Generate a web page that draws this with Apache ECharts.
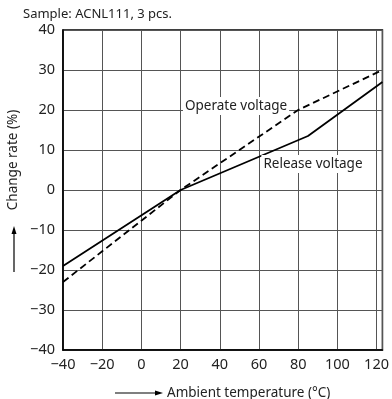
<!DOCTYPE html>
<html>
<head>
<meta charset="utf-8">
<script src="https://cdn.jsdelivr.net/npm/echarts@6/dist/echarts.min.js"></script>
<style>
  html, body { margin: 0; padding: 0; background: #fff; }
  #chart-container { width: 392px; height: 399px; }
</style>
</head>
<body>
<div id="chart-container"></div>
<script>
// ambient temperature (°C) vs change rate (%)
const releaseTemp = [-40, 20, 85, 123];
const releaseRate = [-19, 0, 13.5, 27];
const operateTemp = [-40, 20, 80, 123];
const operateRate = [-23, 0, 20, 30];
const xTicks = [-40, -20, 0, 20, 40, 60, 80, 100, 120];
const yTicks = [-40, -30, -20, -10, 0, 10, 20, 30, 40];

const font = "Noto Sans";
const textColor = "#222";
const minus = (v) => String(v).replace("-", "\u2212");

const labelBox = {
  show: true,
  fontFamily: font,
  fontSize: 13.5,
  color: textColor,
  backgroundColor: "#fff",
  padding: [2, 2, 2, 2],
};

const makeData = (xs, ys, labelIdx, label) =>
  xs.map((x, i) => {
    const d = { value: [x, ys[i]] };
    if (i === labelIdx) d.label = label;
    return d;
  });

let option = {
  animation: false,
  title: {
    text: "Sample: ACNL111, 3 pcs.",
    left: 18,
    top: 3,
    textStyle: { fontFamily: font, fontSize: 13, fontWeight: "normal", color: textColor },
  },
  grid: {
    left: 63,
    right: 9,
    top: 30,
    bottom: 49,
    show: true,
    borderColor: "#000",
    borderWidth: 1.5,
    containLabel: false,
  },
  xAxis: {
    type: "value",
    min: -40,
    max: 123,
    interval: 20,
    axisLine: { show: true, onZero: false, lineStyle: { color: "#000", width: 1.5 } },
    axisTick: { show: false },
    splitLine: { show: true, lineStyle: { color: "#555", width: 1 } },
    axisLabel: {
      margin: 7,
      fontFamily: font,
      fontSize: 14.5,
      color: textColor,
      showMaxLabel: false,
      formatter: (v) => (xTicks.includes(v) ? minus(v) : ""),
    },
  },
  yAxis: {
    type: "value",
    min: -40,
    max: 40,
    interval: 10,
    axisLine: { show: true, onZero: false, lineStyle: { color: "#000", width: 1.5 } },
    axisTick: { show: false },
    splitLine: { show: true, lineStyle: { color: "#555", width: 1 } },
    axisLabel: {
      margin: 8,
      fontFamily: font,
      fontSize: 14.5,
      color: textColor,
      formatter: (v) => (yTicks.includes(v) ? minus(v) : ""),
    },
  },
  series: [
    {
      name: "Release voltage",
      type: "line",
      symbol: "circle",
      symbolSize: 0,
      showSymbol: true,
      itemStyle: { color: "#000" },
      lineStyle: { color: "#000", width: 1.8 },
      data: makeData(releaseTemp, releaseRate, 2, {
        ...labelBox,
        formatter: "Release voltage",
        position: "bottom",
        distance: 19,
        offset: [5, 0],
      }),
      z: 3,
    },
    {
      name: "Operate voltage",
      type: "line",
      symbol: "circle",
      symbolSize: 0,
      showSymbol: true,
      itemStyle: { color: "#000" },
      lineStyle: { color: "#000", width: 1.8, type: [7, 4] },
      data: makeData(operateTemp, operateRate, 2, {
        ...labelBox,
        formatter: "Operate voltage",
        position: "left",
        distance: 9,
        offset: [0, -4],
      }),
      z: 3,
    },
  ],
  graphic: [
    {
      type: "text",
      x: 13,
      y: 160,
      rotation: Math.PI / 2,
      style: {
        text: "Change rate (%)",
        fontFamily: font,
        fontSize: 13.5,
        fill: textColor,
        align: "center",
        verticalAlign: "middle",
      },
    },
    { type: "line", shape: { x1: 14, y1: 272, x2: 14, y2: 232 }, style: { stroke: "#000", lineWidth: 1.2 } },
    { type: "polygon", shape: { points: [[14, 226], [11.5, 234], [16.5, 234]] }, style: { fill: "#000" } },
    {
      type: "text",
      x: 167,
      y: 393,
      style: {
        text: "Ambient temperature (\u00b0C)",
        fontFamily: font,
        fontSize: 13.5,
        fill: textColor,
        align: "left",
        verticalAlign: "middle",
      },
    },
    { type: "line", shape: { x1: 115, y1: 393, x2: 157, y2: 393 }, style: { stroke: "#000", lineWidth: 1.2 } },
    { type: "polygon", shape: { points: [[163, 393], [155, 390.5], [155, 395.5]] }, style: { fill: "#000" } },
  ],
};

const paintChart = () => {
  let dom = document.getElementById("chart-container");
  let myChart = echarts.init(dom, null, { renderer: "canvas" });
  myChart.setOption(option);
  window.addEventListener("resize", () => myChart.resize());
};
paintChart();
</script>
</body>
</html>
